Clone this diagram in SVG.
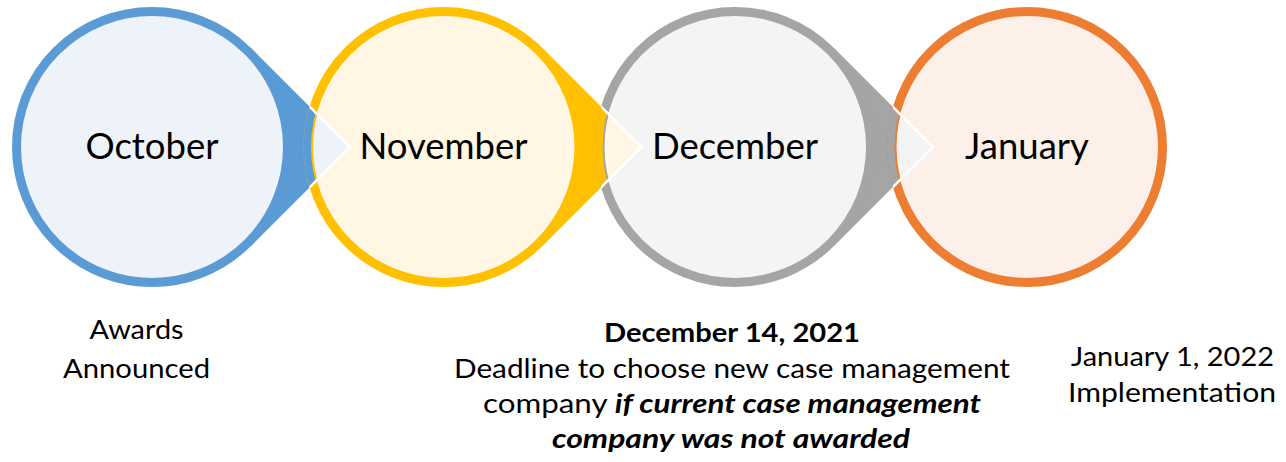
<svg xmlns="http://www.w3.org/2000/svg" width="1286" height="462" viewBox="0 0 1286 462">
  <style>
    .month { font-family: Lato, "Open Sans", sans-serif; font-size: 36.5px; fill: #000; text-anchor: middle; }
    .note { font-family: Lato, "Open Sans", sans-serif; font-size: 26.5px; fill: #000; text-anchor: middle; }
    .b { font-weight: bold; }
    .bi { font-weight: bold; font-style: italic; }
    .ring { stroke-width: 9; }
    .edge { fill: none; stroke: #fff; stroke-width: 2.5; stroke-linejoin: miter; }
    .seam { fill: none; stroke-width: 2; }
  </style>
  <defs>
    <!-- outer / inner discs of the circles that receive an arrow tip -->
    <clipPath id="outer-nov"><circle cx="443.5" cy="147" r="140"/></clipPath>
    <clipPath id="inner-nov"><circle cx="443.5" cy="147" r="131"/></clipPath>
    <clipPath id="outer-dec"><circle cx="735" cy="147" r="140"/></clipPath>
    <clipPath id="inner-dec"><circle cx="735" cy="147" r="131"/></clipPath>
    <clipPath id="outer-jan"><circle cx="1027" cy="147" r="140"/></clipPath>
    <clipPath id="inner-jan"><circle cx="1027" cy="147" r="131"/></clipPath>
    <!-- arrow tip triangles -->
    <clipPath id="tip-oct"><polygon points="251,48 350,147 251,246"/></clipPath>
    <clipPath id="tip-nov"><polygon points="542.5,48 641.5,147 542.5,246"/></clipPath>
    <clipPath id="tip-dec"><polygon points="834,48 933,147 834,246"/></clipPath>
  </defs>

  <rect width="1286" height="462" fill="#fff"/>

  <!-- pointers leading from each month to the next -->
  <g id="connectors">
    <polygon points="251,48 350,147 251,246" fill="#5B9BD5"/>
    <polygon points="542.5,48 641.5,147 542.5,246" fill="#FFC000"/>
    <polygon points="834,48 933,147 834,246" fill="#A5A5A5"/>
  </g>

  <g id="node-october">
    <circle class="ring" cx="152" cy="147" r="135.5" fill="#EEF3FA" stroke="#5B9BD5"/>
    <text class="month" x="152" y="159">October</text>
  </g>
  <g id="node-november">
    <circle class="ring" cx="443.5" cy="147" r="135.5" fill="#FFF6E4" stroke="#FFC000"/>
  </g>
  <g id="node-december">
    <circle class="ring" cx="735" cy="147" r="135.5" fill="#F4F4F4" stroke="#A5A5A5"/>
  </g>
  <g id="node-january">
    <circle class="ring" cx="1027" cy="147" r="135.5" fill="#FDF0E8" stroke="#ED7D31"/>
  </g>

  <!-- pointer tips laid over the following circle -->
  <g id="connector-tips">
    <g clip-path="url(#outer-nov)"><polygon points="251,48 350,147 251,246" fill="#5B9BD5"/></g>
    <g clip-path="url(#inner-nov)"><polygon points="251,48 350,147 251,246" fill="#EEF3FA"/></g>
    <g clip-path="url(#tip-oct)"><circle class="seam" cx="443.5" cy="147" r="131.5" stroke="#FFC000"/></g>
    <g clip-path="url(#outer-nov)"><polyline class="edge" points="251,48 350,147 251,246"/></g>

    <g clip-path="url(#outer-dec)"><polygon points="542.5,48 641.5,147 542.5,246" fill="#FFC000"/></g>
    <g clip-path="url(#inner-dec)"><polygon points="542.5,48 641.5,147 542.5,246" fill="#FFF6E4"/></g>
    <g clip-path="url(#tip-nov)"><circle class="seam" cx="735" cy="147" r="131.5" stroke="#A5A5A5"/></g>
    <g clip-path="url(#outer-dec)"><polyline class="edge" points="542.5,48 641.5,147 542.5,246"/></g>

    <g clip-path="url(#outer-jan)"><polygon points="834,48 933,147 834,246" fill="#A5A5A5"/></g>
    <g clip-path="url(#inner-jan)"><polygon points="834,48 933,147 834,246" fill="#F4F4F4"/></g>
    <g clip-path="url(#tip-dec)"><circle class="seam" cx="1027" cy="147" r="131.5" stroke="#ED7D31"/></g>
    <g clip-path="url(#outer-jan)"><polyline class="edge" points="834,48 933,147 834,246"/></g>
  </g>

  <!-- month names sit above the pointer tips -->
  <text class="month" x="443.5" y="159">November</text>
  <text class="month" x="735" y="159">December</text>
  <text class="month" x="1027" y="159">January</text>

  <!-- notes under the months -->
  <g id="note-october">
    <text class="note" x="136.5" y="339" textLength="94" lengthAdjust="spacingAndGlyphs">Awards</text>
    <text class="note" x="136.5" y="378" textLength="147" lengthAdjust="spacingAndGlyphs">Announced</text>
  </g>
  <g id="note-december">
    <text class="note b" x="732" y="342" textLength="256" lengthAdjust="spacingAndGlyphs">December 14, 2021</text>
    <text class="note" x="732" y="378" textLength="556" lengthAdjust="spacingAndGlyphs">Deadline to choose new case management</text>
    <text class="note" x="732" y="413" textLength="498" lengthAdjust="spacingAndGlyphs">company <tspan class="bi">if current case management</tspan></text>
    <text class="note bi" x="731" y="448" textLength="358" lengthAdjust="spacingAndGlyphs">company was not awarded</text>
  </g>
  <g id="note-january">
    <text class="note" x="1172.5" y="366" textLength="203" lengthAdjust="spacingAndGlyphs">January 1, 2022</text>
    <text class="note" x="1172" y="402" textLength="208" lengthAdjust="spacingAndGlyphs">Implementation</text>
  </g>
</svg>
